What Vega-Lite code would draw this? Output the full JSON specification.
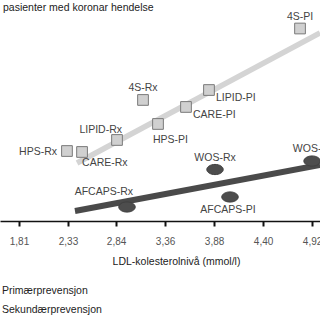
{
  "$schema": "https://vega.github.io/schema/vega-lite/v6.json",
  "width": 320,
  "height": 221,
  "autosize": {"type": "none"},
  "padding": {"top": 0, "left": 0, "right": 0, "bottom": 99},
  "background": "white",
  "config": {
    "view": {"stroke": null},
    "font": "Liberation Sans",
    "text": {"font": "Liberation Sans"},
    "legend": {
      "title": null,
      "orient": "none",
      "legendX": -29,
      "legendY": 282,
      "direction": "vertical",
      "labelFontSize": 10.5,
      "labelColor": "#222222",
      "labelFont": "Liberation Sans",
      "symbolOpacity": 0,
      "symbolSize": 100,
      "labelOffset": 13,
      "rowPadding": 6
    }
  },
  "datasets": {
    "pts": [
      {"study": "4S-PI", "series": "Sekundærprevensjon", "x": 4.792, "y": 26.13},
      {"study": "4S-Rx", "series": "Sekundærprevensjon", "x": 3.126, "y": 16.43},
      {"study": "LIPID-PI", "series": "Sekundærprevensjon", "x": 3.826, "y": 17.78},
      {"study": "CARE-PI", "series": "Sekundærprevensjon", "x": 3.582, "y": 15.48},
      {"study": "HPS-PI", "series": "Sekundærprevensjon", "x": 3.285, "y": 13.17},
      {"study": "LIPID-Rx", "series": "Sekundærprevensjon", "x": 2.85, "y": 11.0},
      {"study": "HPS-Rx", "series": "Sekundærprevensjon", "x": 2.319, "y": 9.5},
      {"study": "CARE-Rx", "series": "Sekundærprevensjon", "x": 2.479, "y": 9.37},
      {"study": "WOS-Rx", "series": "Primærprevensjon", "x": 3.89, "y": 6.99},
      {"study": "WOS-PI", "series": "Primærprevensjon", "x": 4.92, "y": 8.14},
      {"study": "AFCAPS-PI", "series": "Primærprevensjon", "x": 4.049, "y": 3.26},
      {"study": "AFCAPS-Rx", "series": "Primærprevensjon", "x": 2.956, "y": 1.9}
    ],
    "fits": [
      {"series": "Sekundærprevensjon", "x": 2.426, "y": 7.87},
      {"series": "Sekundærprevensjon", "x": 5.004, "y": 25.52},
      {"series": "Primærprevensjon", "x": 2.404, "y": 1.36},
      {"series": "Primærprevensjon", "x": 5.004, "y": 7.6}
    ],
    "note": [
      {"x": 1.64, "y": 28.98, "label": "pasienter med koronar hendelse"}
    ]
  },
  "encoding": {
    "x": {
      "field": "x",
      "type": "quantitative",
      "scale": {"domain": [1.6084, 5.004], "nice": false, "zero": false},
      "axis": {
        "values": [1.81, 2.33, 2.84, 3.36, 3.88, 4.40, 4.92],
        "labelExpr": "replace(format(datum.value, '.2f'), '.', ',')",
        "grid": false,
        "domainColor": "#111111",
        "domainWidth": 1.5,
        "tickColor": "#111111",
        "tickWidth": 2,
        "tickSize": 5,
        "labelPadding": 10,
        "labelFontSize": 10,
        "labelColor": "#555555",
        "labelFlush": false,
        "labelOverlap": false,
        "title": "LDL-kolesterolnivå (mmol/l)",
        "titleFontSize": 10.5,
        "titleFontWeight": "normal",
        "titleColor": "#222222",
        "titlePadding": 10,
        "titleX": 176
      }
    },
    "y": {
      "field": "y",
      "type": "quantitative",
      "scale": {"domain": [0, 30], "nice": false},
      "axis": null
    }
  },
  "layer": [
    {
      "data": {"name": "fits"},
      "transform": [{"filter": "datum.series == 'Sekundærprevensjon'"}],
      "mark": {"type": "line", "stroke": "#d4d4d4", "strokeWidth": 5.5, "strokeCap": "butt"},
      "encoding": {}
    },
    {
      "data": {"name": "fits"},
      "transform": [{"filter": "datum.series == 'Primærprevensjon'"}],
      "mark": {"type": "line", "stroke": "#4a4a4a", "strokeWidth": 6, "strokeCap": "butt"},
      "encoding": {}
    },
    {
      "data": {"name": "pts"},
      "mark": {"type": "point", "opacity": 1, "fillOpacity": 1, "strokeWidth": 1},
      "encoding": {
        "shape": {
          "field": "series",
          "type": "nominal",
          "scale": {"domain": ["Primærprevensjon", "Sekundærprevensjon"], "range": ["M-1,0A1,0.62,0,1,0,1,0A1,0.62,0,1,0,-1,0Z", "square"]}
        },
        "fill": {
          "field": "series",
          "type": "nominal",
          "scale": {"domain": ["Primærprevensjon", "Sekundærprevensjon"], "range": ["#4d4d4d", "#d0d0d0"]}
        },
        "stroke": {
          "field": "series",
          "type": "nominal",
          "scale": {"domain": ["Primærprevensjon", "Sekundærprevensjon"], "range": ["#3f3f3f", "#7a7a7a"]}
        },
        "size": {
          "field": "series",
          "type": "nominal",
          "scale": {"domain": ["Primærprevensjon", "Sekundærprevensjon"], "range": [270, 115]}
        }
      }
    },
    {
      "data": {"name": "pts"},
      "transform": [{"filter": {"field": "study", "oneOf": ["4S-PI", "4S-Rx", "WOS-Rx", "WOS-PI"]}}],
      "mark": {"type": "text", "fontSize": 10.5, "fill": "#444444", "align": "center", "baseline": "middle", "dy": -12},
      "encoding": {"text": {"field": "study"}}
    },
    {
      "data": {"name": "pts"},
      "transform": [{"filter": {"field": "study", "oneOf": ["AFCAPS-PI"]}}],
      "mark": {"type": "text", "fontSize": 10.5, "fill": "#444444", "align": "center", "baseline": "middle", "dx": -2, "dy": 13},
      "encoding": {"text": {"field": "study"}}
    },
    {
      "data": {"name": "pts"},
      "transform": [{"filter": {"field": "study", "oneOf": ["LIPID-PI", "CARE-PI"]}}],
      "mark": {"type": "text", "fontSize": 10.5, "fill": "#444444", "align": "left", "baseline": "middle", "dx": 7, "dy": 8},
      "encoding": {"text": {"field": "study"}}
    },
    {
      "data": {"name": "pts"},
      "transform": [{"filter": {"field": "study", "oneOf": ["HPS-PI"]}}],
      "mark": {"type": "text", "fontSize": 10.5, "fill": "#444444", "align": "left", "baseline": "middle", "dx": -5, "dy": 16},
      "encoding": {"text": {"field": "study"}}
    },
    {
      "data": {"name": "pts"},
      "transform": [{"filter": {"field": "study", "oneOf": ["CARE-Rx"]}}],
      "mark": {"type": "text", "fontSize": 10.5, "fill": "#444444", "align": "left", "baseline": "middle", "dx": 0, "dy": 11},
      "encoding": {"text": {"field": "study"}}
    },
    {
      "data": {"name": "pts"},
      "transform": [{"filter": {"field": "study", "oneOf": ["LIPID-Rx"]}}],
      "mark": {"type": "text", "fontSize": 10.5, "fill": "#444444", "align": "right", "baseline": "middle", "dx": 5, "dy": -10},
      "encoding": {"text": {"field": "study"}}
    },
    {
      "data": {"name": "pts"},
      "transform": [{"filter": {"field": "study", "oneOf": ["AFCAPS-Rx"]}}],
      "mark": {"type": "text", "fontSize": 10.5, "fill": "#444444", "align": "right", "baseline": "middle", "dx": 6, "dy": -15},
      "encoding": {"text": {"field": "study"}}
    },
    {
      "data": {"name": "pts"},
      "transform": [{"filter": {"field": "study", "oneOf": ["HPS-Rx"]}}],
      "mark": {"type": "text", "fontSize": 10.5, "fill": "#444444", "align": "right", "baseline": "middle", "dx": -10, "dy": 1},
      "encoding": {"text": {"field": "study"}}
    },
    {
      "data": {"name": "note"},
      "mark": {"type": "text", "fontSize": 10.5, "fill": "#222222", "align": "left", "baseline": "middle"},
      "encoding": {"text": {"field": "label"}}
    }
  ]
}
